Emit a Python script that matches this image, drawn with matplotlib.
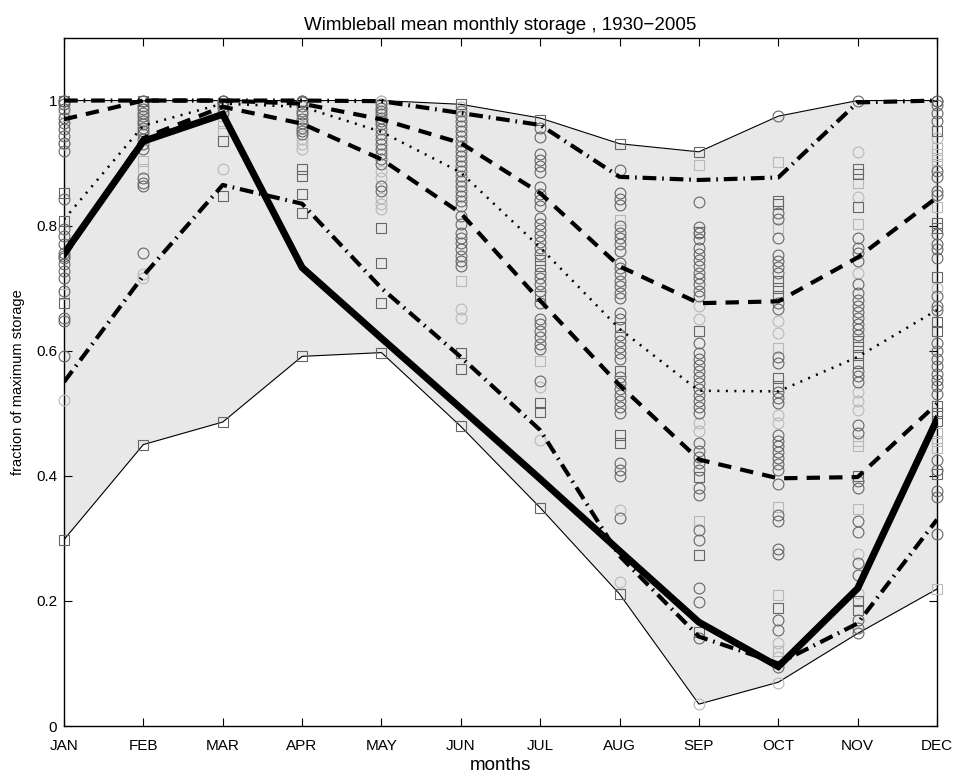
import numpy as np
import matplotlib
matplotlib.use('Agg')
import matplotlib.pyplot as plt

plt.rcParams['font.family'] = ['Liberation Sans', 'DejaVu Sans']

months = ['JAN', 'FEB', 'MAR', 'APR', 'MAY', 'JUN',
          'JUL', 'AUG', 'SEP', 'OCT', 'NOV', 'DEC']

# envelope and statistics of monthly storage
max_storage = [1.0, 1.0, 1.0, 1.0, 1.0, 0.994, 0.972, 0.931, 0.918, 0.975, 1.0, 1.0]
min_storage = [0.298, 0.45, 0.486, 0.591, 0.597, 0.479, 0.349, 0.211, 0.035, 0.07, 0.148, 0.219]
mean_storage = [0.755, 0.935, 0.978, 0.733, 0.62, 0.508, 0.395, 0.28, 0.166, 0.095, 0.22, 0.49]
p90 = [1.0, 1.0, 1.0, 1.0, 0.999, 0.98, 0.961, 0.878, 0.873, 0.877, 0.997, 1.0]
p75 = [0.97, 1.0, 1.0, 0.995, 0.97, 0.932, 0.852, 0.735, 0.676, 0.679, 0.749, 0.845]
p50 = [0.81, 0.96, 0.995, 0.99, 0.95, 0.885, 0.765, 0.635, 0.536, 0.535, 0.59, 0.665]
p25 = [0.75, 0.94, 0.99, 0.963, 0.906, 0.82, 0.68, 0.545, 0.426, 0.396, 0.398, 0.515]
p10 = [0.55, 0.72, 0.865, 0.835, 0.70, 0.59, 0.473, 0.272, 0.143, 0.10, 0.164, 0.33]

# individual years, one list per month (JAN..DEC)
dark_circles = [
    [1.0, 1.0, 0.994, 0.986, 0.972, 0.964, 0.954, 0.943, 0.932, 0.919, 0.842, 0.794, 0.783,
     0.770, 0.756, 0.752, 0.748, 0.738, 0.727, 0.716, 0.695, 0.652, 0.647, 0.591],
    [1.0, 1.0, 0.991, 0.986, 0.980, 0.975, 0.967, 0.962, 0.956, 0.951, 0.946, 0.938, 0.930,
     0.922, 0.876, 0.868, 0.863, 0.756],
    [1.0, 1.0, 0.995, 0.99, 0.98],
    [1.0, 1.0, 0.997, 0.991, 0.983, 0.978, 0.970, 0.964, 0.956, 0.951, 0.946],
    [0.994, 0.988, 0.983, 0.978, 0.972, 0.967, 0.962, 0.954, 0.946, 0.938, 0.930, 0.922,
     0.914, 0.906, 0.898, 0.863, 0.855],
    [0.983, 0.975, 0.967, 0.959, 0.951, 0.943, 0.935, 0.927, 0.919, 0.911, 0.903, 0.895,
     0.887, 0.879, 0.871, 0.863, 0.855, 0.847, 0.839, 0.831, 0.815, 0.802, 0.788, 0.780,
     0.772, 0.762, 0.751, 0.743, 0.735],
    [0.956, 0.941, 0.915, 0.905, 0.895, 0.886, 0.861, 0.851, 0.841, 0.832, 0.812, 0.802,
     0.793, 0.783, 0.774, 0.764, 0.754, 0.725, 0.716, 0.706, 0.696, 0.677, 0.650, 0.642,
     0.632, 0.622, 0.611, 0.603, 0.552],
    [0.889, 0.852, 0.842, 0.833, 0.799, 0.789, 0.780, 0.770, 0.760, 0.741, 0.732, 0.722,
     0.712, 0.703, 0.693, 0.684, 0.661, 0.651, 0.625, 0.616, 0.606, 0.596, 0.587, 0.558,
     0.549, 0.539, 0.529, 0.520, 0.510, 0.500, 0.420, 0.410, 0.400, 0.333],
    [0.838, 0.798, 0.789, 0.779, 0.764, 0.754, 0.745, 0.735, 0.725, 0.716, 0.706, 0.696,
     0.687, 0.613, 0.597, 0.587, 0.577, 0.568, 0.558, 0.549, 0.539, 0.529, 0.520, 0.510,
     0.500, 0.452, 0.439, 0.430, 0.420, 0.410, 0.381, 0.369, 0.314, 0.298, 0.221, 0.198,
     0.141],
    [0.975, 0.82, 0.81, 0.781, 0.753, 0.744, 0.734, 0.725, 0.676, 0.667, 0.590, 0.581,
     0.534, 0.525, 0.516, 0.466, 0.456, 0.447, 0.438, 0.428, 0.419, 0.409, 0.387, 0.338,
     0.328, 0.283, 0.275, 0.169, 0.154, 0.094],
    [1.0, 0.781, 0.765, 0.756, 0.743, 0.706, 0.693, 0.681, 0.671, 0.662, 0.653, 0.643,
     0.634, 0.625, 0.568, 0.559, 0.550, 0.481, 0.469, 0.391, 0.381, 0.328, 0.310, 0.260,
     0.241, 0.169, 0.157, 0.148],
    [1.0, 1.0, 0.993, 0.980, 0.968, 0.887, 0.877, 0.855, 0.849, 0.787, 0.771, 0.762,
     0.749, 0.687, 0.671, 0.665, 0.612, 0.600, 0.587, 0.575, 0.562, 0.553, 0.544, 0.531,
     0.425, 0.409, 0.375, 0.366, 0.307],
]
light_circles = [
    [0.98, 0.93, 0.522],
    [0.97, 0.722, 0.716],
    [1.0, 0.985, 0.89],
    [0.938, 0.930, 0.922],
    [1.0, 1.0, 0.887, 0.876, 0.844, 0.834, 0.826],
    [0.99, 0.666, 0.652],
    [0.542, 0.457],
    [0.346, 0.230],
    [0.671, 0.651, 0.484, 0.471, 0.035],
    [0.648, 0.629, 0.498, 0.484, 0.132, 0.110, 0.069],
    [0.918, 0.846, 0.724, 0.534, 0.519, 0.506, 0.275, 0.213],
    [0.94, 0.70],
]
dark_squares = [
    [1.0, 0.852, 0.807, 0.676, 0.298],
    [1.0, 0.45],
    [0.935, 0.847, 0.486],
    [0.890, 0.879, 0.850, 0.820, 0.591],
    [0.796, 0.740, 0.676, 0.597],
    [0.994, 0.596, 0.570, 0.479],
    [0.969, 0.745, 0.735, 0.687, 0.516, 0.502, 0.349],
    [0.931, 0.638, 0.568, 0.465, 0.452, 0.211],
    [0.918, 0.79, 0.632, 0.398, 0.273, 0.150],
    [0.840, 0.834, 0.712, 0.700, 0.687, 0.556, 0.544, 0.188],
    [0.890, 0.883, 0.829, 0.615, 0.606, 0.593, 0.581, 0.400, 0.200, 0.185],
    [0.952, 0.805, 0.796, 0.718, 0.646, 0.631, 0.512, 0.500, 0.487, 0.403],
]
light_squares = [
    [0.96, 0.69],
    [0.903, 0.890],
    [0.975, 0.964, 0.951],
    [0.96],
    [],
    [0.711],
    [0.584],
    [0.809],
    [0.897, 0.327],
    [0.902, 0.796, 0.604, 0.350, 0.210, 0.120],
    [0.868, 0.802, 0.456, 0.447, 0.347],
    [0.924, 0.915, 0.905, 0.896, 0.830, 0.469, 0.456, 0.444, 0.219],
]

x = np.arange(1, 13)

fig = plt.figure(figsize=(9.54, 7.76), dpi=100)
ax = fig.add_axes([64 / 954, 50 / 776, 873 / 954, 688 / 776])

ax.fill_between(x, min_storage, max_storage, color='#e8e8e8', zorder=1, lw=0)
ax.plot(x, max_storage, color='k', lw=0.8, zorder=2)
ax.plot(x, min_storage, color='k', lw=0.8, zorder=2)


def scatter_group(groups, marker, colour, size):
    for i, vals in enumerate(groups):
        if not vals:
            continue
        ax.plot(np.full(len(vals), x[i]), vals, linestyle='none', marker=marker,
                markersize=size, markerfacecolor='none', markeredgecolor=colour,
                markeredgewidth=0.8, zorder=3, clip_on=False)


scatter_group(light_circles, 'o', '0.72', 7.8)
scatter_group(light_squares, 's', '0.72', 6.8)
scatter_group(dark_circles, 'o', '0.4', 7.8)
scatter_group(dark_squares, 's', '0.4', 6.8)

dashdot = (0, (3.3, 1.4, 0.4, 1.4))
dashed = (0, (3.2, 2.2))
dotted = (0, (0.8, 2.6))
ax.plot(x, p90, color='k', lw=3, linestyle=dashdot, zorder=4)
ax.plot(x, p75, color='k', lw=3, linestyle=dashed, zorder=4)
ax.plot(x, p50, color='k', lw=1.8, linestyle=dotted, zorder=4)
ax.plot(x, p25, color='k', lw=3, linestyle=dashed, zorder=4)
ax.plot(x, p10, color='k', lw=3, linestyle=dashdot, zorder=4)
ax.plot(x, mean_storage, color='k', lw=5, zorder=5, solid_joinstyle='miter')

ax.set_xlim(1, 12)
ax.set_ylim(0, 1.1)
ax.set_xticks(x)
ax.set_xticklabels(months)
ax.set_yticks([0, 0.2, 0.4, 0.6, 0.8, 1.0])
ax.set_yticklabels(['0', '0.2', '0.4', '0.6', '0.8', '1'])
ax.tick_params(direction='in', length=6, width=0.8, top=True, right=True,
               labelsize=11)
ax.tick_params(axis='x', pad=9)
ax.tick_params(axis='y', pad=5)
for s in ax.spines.values():
    s.set_linewidth(1.0)

ax.set_xlabel('months', fontsize=13.5, labelpad=3)
ax.set_ylabel('fraction of maximum storage', fontsize=10.5, labelpad=8)
ax.set_title('Wimbleball mean monthly storage , 1930\u22122005', fontsize=13.5, pad=6)

fig.savefig('out.png', dpi=100)
